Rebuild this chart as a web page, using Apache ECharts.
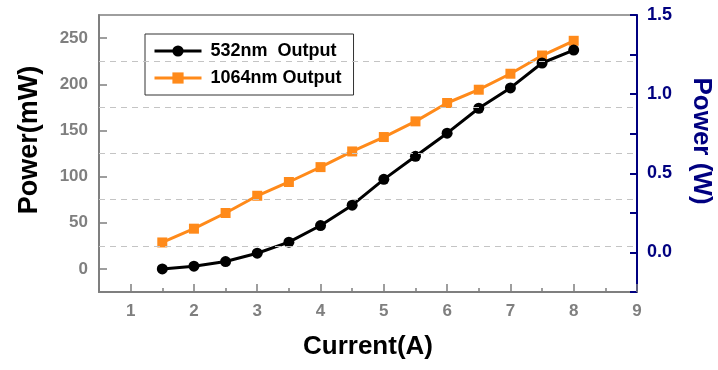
<!DOCTYPE html>
<html>
<head>
<meta charset="utf-8">
<script src="https://cdn.jsdelivr.net/npm/echarts@6/dist/echarts.min.js"></script>
<style>
html,body{margin:0;padding:0;background:#fff;}
#c{width:718px;height:370px;}
</style>
</head>
<body>
<div id="c"></div>
<script>
// ---- data ----
const current = [1.5, 2.0, 2.5, 3.0, 3.5, 4.0, 4.5, 5.0, 5.5, 6.0, 6.5, 7.0, 7.5, 8.0];
const power532mW = [0, 3, 8, 17, 29, 47, 69, 97, 122, 147, 174, 196, 223, 237];
const power1064W = [0.063, 0.150, 0.249, 0.358, 0.445, 0.539, 0.638, 0.729, 0.828, 0.944, 1.028, 1.129, 1.244, 1.337];
const leftTicks = [0, 50, 100, 150, 200, 250];
const rightTicks = [0, 0.5, 1.0, 1.5];
const xTicks = [1, 2, 3, 4, 5, 6, 7, 8, 9];
const gridValues = [25, 75, 125, 175, 225];
const seriesNames = ['532nm  Output', '1064nm Output'];

const FONT = '"Liberation Sans", Arial, sans-serif';
const GRAY = '#7f7f7f';
const NAVY = '#000080';
const ORANGE = '#FF8A1A';

const chart = echarts.init(document.getElementById('c'), null, {renderer: 'canvas'});
const option = {
  animation: false,
  backgroundColor: '#fff',
  grid: {left: 99, right: 81, top: 15, bottom: 78, show: true, borderColor: GRAY, borderWidth: 1.5, backgroundColor: 'transparent'},
  legend: {
    left: 145, top: 34, orient: 'vertical',
    data: seriesNames,
    borderColor: '#333', borderWidth: 1,
    padding: [8, 12, 8, 8],
    itemWidth: 47, itemHeight: 14, itemGap: 9,
    lineStyle: {width: 3},
    textStyle: {fontFamily: FONT, fontWeight: 'bold', fontSize: 18, color: '#000', padding: [0, 0, 0, 4]}
  },
  xAxis: [
    {
      type: 'value', position: 'bottom', min: 0.5, max: 9, interval: 0.5,
      axisLine: {show: true, onZero: false, lineStyle: {color: GRAY, width: 2}},
      axisTick: {show: true, inside: true, length: 4, lineStyle: {color: GRAY, width: 1.5}},
      axisLabel: {show: false},
      splitLine: {show: false}
    },
    {
      type: 'value', position: 'bottom', min: 0.5, max: 9, interval: 0.5,
      axisLine: {show: false, onZero: false},
      axisTick: {show: true, inside: true, length: 8, customValues: xTicks, lineStyle: {color: GRAY, width: 1.5}},
      axisLabel: {show: true, customValues: xTicks, margin: 11, color: GRAY, fontFamily: FONT, fontWeight: 'bold', fontSize: 17},
      splitLine: {show: false}
    }
  ],
  yAxis: [
    {
      type: 'value', position: 'left', min: -25, max: 275, interval: 25,
      axisLine: {show: true, onZero: false, lineStyle: {color: GRAY, width: 2}},
      axisTick: {show: true, inside: true, length: 8, customValues: leftTicks, lineStyle: {color: GRAY, width: 1.5}},
      axisLabel: {show: true, customValues: leftTicks, margin: 11, color: GRAY, fontFamily: FONT, fontWeight: 'bold', fontSize: 17},
      splitLine: {show: false}
    },
    {
      type: 'value', position: 'right', min: -0.25, max: 1.5, interval: 0.25,
      axisLine: {show: true, onZero: false, lineStyle: {color: NAVY, width: 2}},
      axisTick: {show: true, inside: true, length: 7, lineStyle: {color: NAVY, width: 2}},
      axisLabel: {show: true, customValues: rightTicks, margin: 10, color: NAVY, fontFamily: FONT, fontWeight: 'bold', fontSize: 18,
        formatter: v => v.toFixed(1)},
      splitLine: {show: false}
    }
  ],
  graphic: [
    {type: 'text', x: 30, y: 140, rotation: Math.PI / 2,
      style: {text: 'Power(mW)', font: 'bold 27px ' + FONT, fill: '#000', align: 'center', verticalAlign: 'middle'}},
    {type: 'text', x: 701, y: 141, rotation: -Math.PI / 2,
      style: {text: 'Power (W)', font: 'bold 26px ' + FONT, fill: NAVY, align: 'center', verticalAlign: 'middle'}},
    {type: 'text', x: 368, y: 347,
      style: {text: 'Current(A)', font: 'bold 26px ' + FONT, fill: '#000', align: 'center', verticalAlign: 'middle'}}
  ],
  series: [
    {
      name: 'grid', type: 'line', xAxisIndex: 0, yAxisIndex: 0, data: [], z: 1, silent: true,
      markLine: {
        silent: true, symbol: 'none', label: {show: false},
        lineStyle: {color: '#c4c4c4', type: [6, 5], width: 1},
        data: gridValues.map(v => ({yAxis: v}))
      }
    },
    {
      name: seriesNames[0], type: 'line', xAxisIndex: 0, yAxisIndex: 0, z: 4,
      data: current.map((x, i) => [x, power532mW[i]]),
      symbol: 'circle', symbolSize: 11,
      lineStyle: {color: '#000', width: 3},
      itemStyle: {color: '#000'}
    },
    {
      name: seriesNames[1], type: 'line', xAxisIndex: 0, yAxisIndex: 1, z: 3,
      data: current.map((x, i) => [x, power1064W[i]]),
      symbol: 'rect', symbolSize: 10,
      lineStyle: {color: ORANGE, width: 3},
      itemStyle: {color: ORANGE}
    }
  ]
};
chart.setOption(option);
</script>
</body>
</html>
